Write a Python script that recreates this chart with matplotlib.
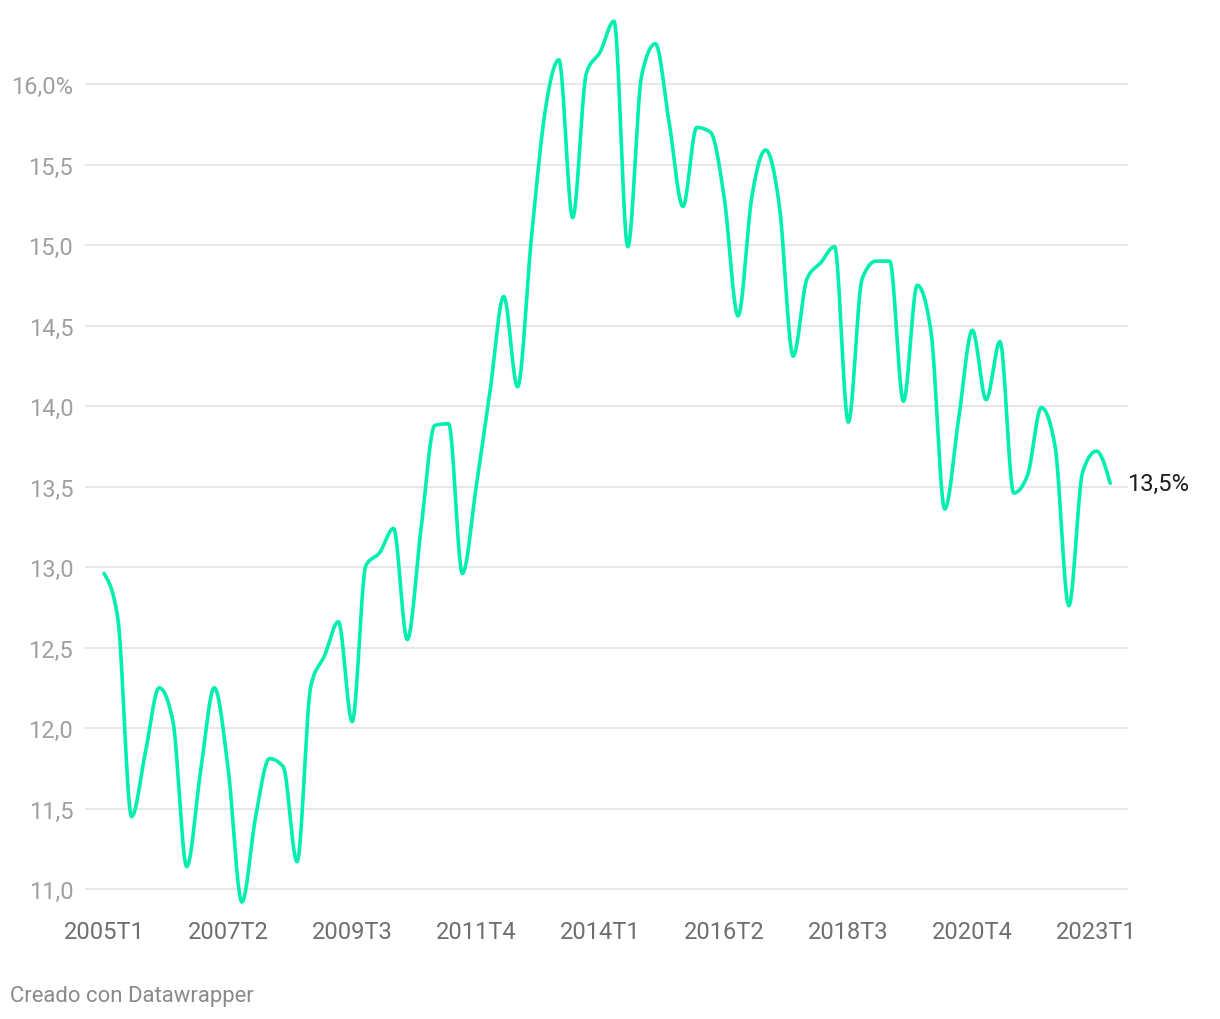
import matplotlib
matplotlib.use("Agg")
import matplotlib.pyplot as plt
import numpy as np

plt.rcParams["font.family"] = ["Roboto", "DejaVu Sans"]

# quarterly values, 2005T1 .. 2023T2
values = [
    12.96, 12.68, 11.45, 11.85, 12.25, 12.04, 11.14, 11.73, 12.25, 11.75,
    10.92, 11.45, 11.81, 11.76, 11.17, 12.26, 12.45, 12.66, 12.04, 13.01,
    13.09, 13.24, 12.55, 13.24, 13.88, 13.89, 12.96, 13.50, 14.09, 14.68,
    14.12, 15.04, 15.83, 16.15, 15.17, 16.07, 16.20, 16.39, 14.99, 16.05,
    16.25, 15.76, 15.24, 15.73, 15.70, 15.29, 14.56, 15.30, 15.59, 15.24,
    14.31, 14.79, 14.89, 14.99, 13.90, 14.79, 14.90, 14.90, 14.03, 14.75,
    14.46, 13.36, 13.92, 14.47, 14.04, 14.40, 13.46, 13.57, 13.99, 13.75,
    12.76, 13.59, 13.72, 13.52,
]
start_year = 2005
tick_every = 9
y_ticks = [11.0, 11.5, 12.0, 12.5, 13.0, 13.5, 14.0, 14.5, 15.0, 15.5, 16.0]
end_label = "13,5%"


def quarter_label(i):
    return f"{start_year + i // 4}T{i % 4 + 1}"


def monotone_x(x, y, per_seg=40):
    """d3 curveMonotoneX style interpolation (Steffen slopes)."""
    x = np.asarray(x, float)
    y = np.asarray(y, float)
    n = len(x)
    h = np.diff(x)
    s = np.diff(y) / h
    t = np.zeros(n)
    for i in range(1, n - 1):
        p = (s[i - 1] * h[i] + s[i] * h[i - 1]) / (h[i - 1] + h[i])
        t[i] = (np.sign(s[i - 1]) + np.sign(s[i])) * min(abs(s[i - 1]), abs(s[i]), 0.5 * abs(p))
    t[0] = (3 * s[0] - t[1]) / 2
    t[-1] = (3 * s[-1] - t[-2]) / 2
    xs, ys = [], []
    for i in range(n - 1):
        u = np.linspace(0, 1, per_seg, endpoint=(i == n - 2))
        h00 = 2 * u**3 - 3 * u**2 + 1
        h10 = u**3 - 2 * u**2 + u
        h01 = -2 * u**3 + 3 * u**2
        h11 = u**3 - u**2
        xs.append(x[i] + u * h[i])
        ys.append(h00 * y[i] + h10 * h[i] * t[i] + h01 * y[i + 1] + h11 * h[i] * t[i + 1])
    return np.concatenate(xs), np.concatenate(ys)


idx = np.arange(len(values))
xs, ys = monotone_x(idx, values)

fig = plt.figure(figsize=(12.2, 10.2), dpi=100)
ax = fig.add_axes([0.0697, 0.1037, 0.855, 0.884])

ax.plot(xs, ys, color="#00EFAE", lw=2.6, solid_capstyle="round", zorder=3)

ax.set_xlim(-1.38, 74.3)
ax.set_ylim(10.85, 16.45)

ax.set_yticks(y_ticks)
ax.set_yticklabels([f"{v:.1f}".replace(".", ",") + ("%" if v == y_ticks[-1] else "") for v in y_ticks])
xt = idx[::tick_every]
ax.set_xticks(xt)
ax.set_xticklabels([quarter_label(i) for i in xt])

ax.grid(axis="y", color="#e3e3e3", lw=1.2, zorder=0)
ax.grid(axis="x", visible=False)
for sp in ax.spines.values():
    sp.set_visible(False)
ax.tick_params(axis="y", length=0, pad=8.5, labelsize=17, labelcolor="#a0a0a0")
ax.tick_params(axis="x", length=0, pad=5, labelsize=17, labelcolor="#6e6e6e")

ax.annotate(end_label, xy=(idx[-1], values[-1]), xytext=(12, 0),
            textcoords="offset points", ha="left", va="center",
            fontsize=17, color="#1d1d1d")

fig.text(10 / 1220, 1 - 997 / 1020, "Creado con Datawrapper", fontsize=15.9,
         color="#8a8a8a", ha="left", va="center")

fig.savefig("out.png", dpi=100)
